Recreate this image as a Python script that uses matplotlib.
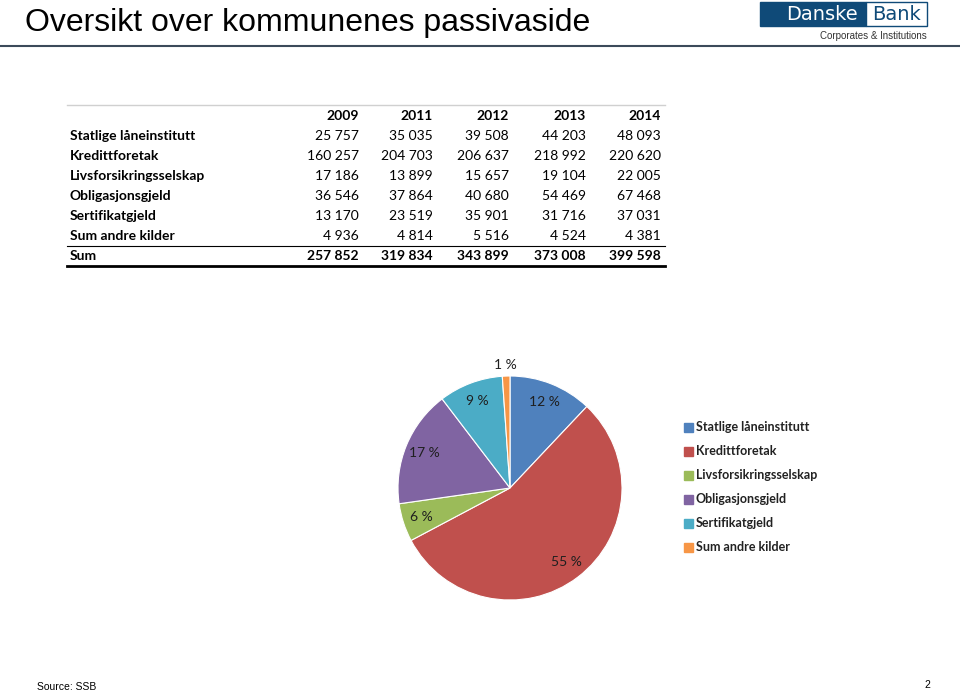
import matplotlib
matplotlib.use("Agg")
from matplotlib import pyplot as plt
from matplotlib.patches import Rectangle
from matplotlib.lines import Line2D
import numpy as np

W, H = 960, 692

title = "Oversikt over kommunenes passivaside"
years = ["2009", "2011", "2012", "2013", "2014"]
categories = ["Statlige låneinstitutt", "Kredittforetak", "Livsforsikringsselskap",
              "Obligasjonsgjeld", "Sertifikatgjeld", "Sum andre kilder"]
table_values = [
    ["25 757", "35 035", "39 508", "44 203", "48 093"],
    ["160 257", "204 703", "206 637", "218 992", "220 620"],
    ["17 186", "13 899", "15 657", "19 104", "22 005"],
    ["36 546", "37 864", "40 680", "54 469", "67 468"],
    ["13 170", "23 519", "35 901", "31 716", "37 031"],
    ["4 936", "4 814", "5 516", "4 524", "4 381"],
]
sum_values = ["257 852", "319 834", "343 899", "373 008", "399 598"]
pie_values = [48093, 220620, 22005, 67468, 37031, 4381]  # 2014
colors = ["#4F81BD", "#C0504D", "#9BBB59", "#8064A2", "#4BACC6", "#F79646"]

fig = plt.figure(figsize=(W / 100, H / 100), dpi=100)


# helpers working in pixel coordinates (origin top-left)
def fx(x):
    return x / W


def fy(y):
    return 1 - y / H


def ftext(x, y, s, **kw):
    fig.text(fx(x), fy(y), s, **kw)


# title + rule
ftext(25, 23, title, fontsize=23, family="Liberation Sans", va="center", ha="left")
fig.add_artist(Line2D([0, 1], [fy(46), fy(46)], color="#3b4a5a", lw=1.5))

# logo
fig.add_artist(Rectangle((fx(760), fy(26)), fx(106), 24 / H, color="#0f4a78"))
fig.add_artist(Rectangle((fx(866), fy(26)), fx(61), 24 / H, facecolor="white",
                         edgecolor="#0f4a78", lw=1))
ftext(822, 15, "Danske", fontsize=14, color="white", family="DejaVu Sans",
      ha="center", va="center")
ftext(897, 15, "Bank", fontsize=14, color="#0f4a78", family="DejaVu Sans",
      ha="center", va="center")
ftext(927, 36, "Corporates & Institutions", fontsize=7, color="#333333",
      family="Liberation Sans", ha="right", va="center")

# table
fig.add_artist(Line2D([fx(67), fx(665)], [fy(105), fy(105)], color="#d0d0d0", lw=1))
col_right = [359, 433, 509, 586, 661]
tfont = "Lato"
fs = 10
for j, yr in enumerate(years):
    ftext(col_right[j], 116, yr, fontsize=fs, family=tfont, weight="bold",
          ha="right", va="center")
for i, cat in enumerate(categories):
    y = 136 + 20 * i
    ftext(70, y, cat, fontsize=fs, family=tfont, weight="bold", ha="left", va="center")
    for j, v in enumerate(table_values[i]):
        ftext(col_right[j], y, v, fontsize=fs, family=tfont, ha="right", va="center")
fig.add_artist(Line2D([fx(67), fx(665)], [fy(246), fy(246)], color="black", lw=0.8))
ftext(70, 256, "Sum", fontsize=fs, family=tfont, weight="bold", ha="left", va="center")
for j, v in enumerate(sum_values):
    ftext(col_right[j], 256, v, fontsize=fs, family=tfont, weight="bold",
          ha="right", va="center")
fig.add_artist(Line2D([fx(67), fx(665)], [fy(266), fy(266)], color="black", lw=2))

# pie
cx, cy, r = 510, 488, 112
ax = fig.add_axes([fx(cx - r), fy(cy + r), 2 * r / W, 2 * r / H])
wedges, _ = ax.pie(pie_values, colors=colors, startangle=90, counterclock=False,
                   wedgeprops=dict(edgecolor="white", linewidth=0.8))
ax.set_xlim(-1, 1)
ax.set_ylim(-1, 1)
ax.set_aspect("equal")
total = sum(pie_values)
for w, v in zip(wedges, pie_values):
    pct = 100 * v / total
    mid = np.deg2rad((w.theta1 + w.theta2) / 2)
    d = 1.1 if pct < 2 else 0.83
    ax.text(d * np.cos(mid), d * np.sin(mid), f"{pct:.0f} %", fontsize=10,
            family=tfont, color="#1f1f1f", ha="center", va="center", clip_on=False)

# legend
for i, (cat, c) in enumerate(zip(categories, colors)):
    y = 427 + 24 * i
    fig.add_artist(Rectangle((fx(684), fy(y + 4.5)), 9 / W, 9 / H, color=c))
    ftext(696, y, cat, fontsize=9, family=tfont, weight="bold", color="#222222",
          ha="left", va="center")

# footer
ftext(37, 687, "Source: SSB", fontsize=7.5, family="Liberation Sans", ha="left", va="center")
ftext(930, 685, "2", fontsize=7.5, family="Liberation Sans", ha="right", va="center")

fig.savefig("out.png", dpi=100)
